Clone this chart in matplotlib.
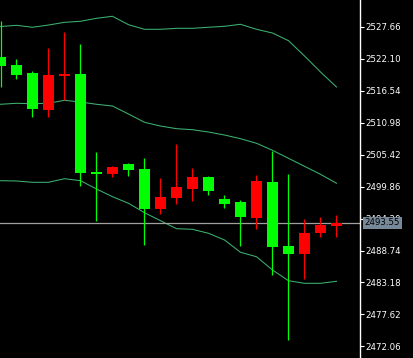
import numpy as np
import matplotlib
matplotlib.use("Agg")
import matplotlib.pyplot as plt
import matplotlib.transforms as mtransforms

# ---------------- data ----------------
opens  = [2520.80, 2519.29, 2513.38, 2519.24, 2519.41, 2502.26, 2502.09, 2503.25,
          2502.78, 2495.95, 2498.04, 2499.78, 2501.51, 2499.08, 2496.82, 2494.56,
          2500.82, 2489.35, 2488.18, 2491.78, 2493.17, 2493.52]
highs  = [2528.62, 2522.02, 2519.93, 2523.93, 2526.71, 2524.62, 2505.86, 2503.42,
          2503.90, 2504.81, 2501.34, 2507.25, 2503.08, 2501.69, 2498.38, 2497.52,
          2501.91, 2506.08, 2502.09, 2494.21, 2494.56, 2494.91]
lows   = [2517.15, 2518.54, 2511.99, 2511.99, 2514.89, 2499.95, 2493.87, 2501.56,
          2501.69, 2489.70, 2495.08, 2496.82, 2497.34, 2498.38, 2496.13, 2489.52,
          2492.48, 2484.48, 2473.19, 2483.74, 2491.09, 2491.09]
closes = [2522.36, 2520.97, 2519.58, 2513.21, 2519.15, 2519.41, 2502.43, 2502.09,
          2503.77, 2502.90, 2495.95, 2497.86, 2499.43, 2501.51, 2497.69, 2497.17,
          2494.44, 2500.64, 2489.52, 2488.18, 2491.83, 2493.00]

bb_upper = [2527.66, 2527.87, 2527.53, 2527.92, 2528.39, 2528.57, 2529.09, 2529.44,
            2527.98, 2527.18, 2527.18, 2527.35, 2527.35, 2527.53, 2527.70, 2528.05,
            2527.18, 2526.53, 2525.20, 2522.54, 2519.76, 2517.15]
bb_mid   = [2514.15, 2514.32, 2514.25, 2514.32, 2514.84, 2514.54, 2514.15, 2513.85,
            2512.46, 2511.02, 2510.37, 2509.91, 2509.73, 2509.33, 2508.81, 2508.17,
            2507.37, 2506.15, 2504.76, 2503.37, 2501.98, 2500.42]
bb_lower = [2500.87, 2500.82, 2500.59, 2500.59, 2501.22, 2500.87, 2499.43, 2498.09,
            2496.94, 2495.31, 2493.92, 2492.53, 2492.42, 2491.73, 2490.57, 2488.43,
            2487.66, 2485.35, 2483.49, 2483.04, 2483.04, 2483.39]

price_ticks = [2472.06, 2477.62, 2483.18, 2488.74, 2494.30, 2499.86,
               2505.42, 2510.98, 2516.54, 2522.10, 2527.66]
last_price = 2493.55

# ---------------- figure ----------------
W, H = 414, 358
fig = plt.figure(figsize=(W / 100, H / 100), dpi=100, facecolor="black")
ax = fig.add_axes([0, 0, 360 / W, 1], facecolor="black")

x = np.arange(len(opens))
o = np.array(opens); c = np.array(closes)
up = c >= o
cols = np.where(up, "#00FF00", "#FF0000")

band_col = "#3CB371"
for band in (bb_upper, bb_mid, bb_lower):
    ax.plot(x, band, color=band_col, lw=0.75, zorder=1)

ax.axhline(last_price, color="#A0A0A0", lw=0.9, zorder=1.5)

ax.vlines(x, lows, highs, colors=cols, lw=0.9, zorder=2)
body_h = np.maximum(np.abs(c - o), 0.25)
ax.bar(x, body_h, bottom=np.minimum(o, c), width=11 / 16, color=cols,
       edgecolor="none", zorder=3)

ax.set_xlim(-0.5 / 16, 359.5 / 16)
ax.set_ylim(2470.06, 2532.27)

# right price scale
ax.yaxis.tick_right()
ax.set_yticks(price_ticks)
ax.set_yticklabels([f"{v:.2f}" for v in price_ticks])
ax.tick_params(axis="y", colors="white", labelcolor="white", labelsize=6.2,
               length=3, width=0.8, pad=1)
ax.set_xticks([])
for s in ("left", "top", "bottom"):
    ax.spines[s].set_visible(False)
ax.spines["right"].set_color("white")
ax.spines["right"].set_linewidth(1)

# last price tag
trans = mtransforms.blended_transform_factory(ax.transAxes, ax.transData)
ax.text(1.012, last_price, f"{last_price:.2f}", transform=trans,
        ha="left", va="center", fontsize=6.2, color="black", clip_on=False,
        zorder=10,
        bbox=dict(boxstyle="square,pad=0.2", facecolor="#778899", edgecolor="none"))

fig.savefig("out.png", dpi=100, facecolor="black")
